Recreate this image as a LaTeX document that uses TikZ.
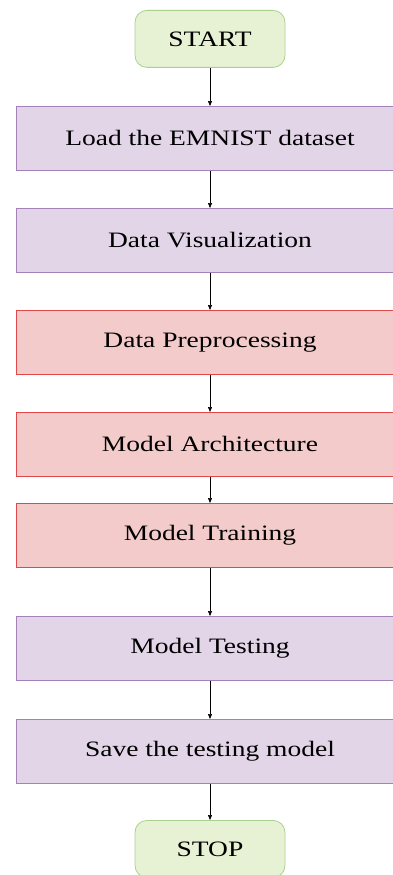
\documentclass[tikz,border=0pt]{standalone}
\usepackage{fontspec}
\setmainfont{Liberation Serif}[FakeStretch=1.25]
\usetikzlibrary{arrows.meta}
\definecolor{pfill}{HTML}{E1D5E7}
\definecolor{pline}{HTML}{A680B8}
\definecolor{rfill}{HTML}{F3CBCB}
\definecolor{rline}{HTML}{E0484A}
\definecolor{gfill}{HTML}{E7F2D5}
\definecolor{gline}{HTML}{A9D18E}
\tikzset{
  px/.style={x=1pt,y=-1pt},
  stepbox/.style={draw=#1line, fill=#1fill, line width=0.8pt, minimum width=388pt, minimum height=64pt, inner sep=0pt, font=\fontsize{22}{26}\selectfont, anchor=north},
  term/.style={draw=gline, fill=gfill, line width=0.8pt, rounded corners=12pt, minimum width=150pt, minimum height=57pt, inner sep=0pt, font=\fontsize{22}{26}\selectfont, anchor=north},
  flow/.style={-{Triangle[length=5pt,width=4pt]}, line width=0.6pt, black}
}
\begin{document}
\begin{tikzpicture}[px]
\useasboundingbox (0,0) rectangle (393,875);
\clip (0,0) rectangle (393,875);
\fill[white] (0,0) rectangle (393,875);
\node[term] (start) at (210,10) {START};
\node[stepbox=p] (load) at (210,106) {Load the EMNIST dataset};
\node[stepbox=p] (vis) at (210,208) {Data Visualization};
\node[stepbox=r] (pre) at (210,310) {Data Preprocessing};
\node[stepbox=r] (arch) at (210,412) {Model Architecture};
\node[stepbox=r] (train) at (210,503) {Model Training};
\node[stepbox=p] (test) at (210,616) {Model Testing};
\node[stepbox=p] (save) at (210,719) {Save the testing model};
\node[term] (stop) at (210,820) {STOP};
\draw[flow] (start) -- (load);
\draw[flow] (load) -- (vis);
\draw[flow] (vis) -- (pre);
\draw[flow] (pre) -- (arch);
\draw[flow] (arch) -- (train);
\draw[flow] (train) -- (test);
\draw[flow] (test) -- (save);
\draw[flow] (save) -- (stop);
\end{tikzpicture}
\end{document}
